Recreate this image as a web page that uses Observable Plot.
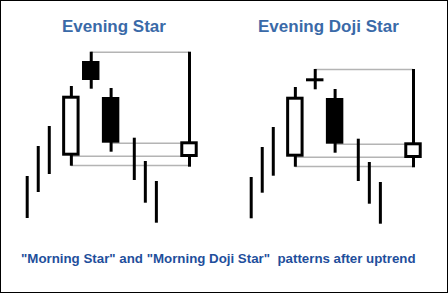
<!DOCTYPE html>
<html>
<head>
<meta charset="utf-8">
<script src="https://cdn.jsdelivr.net/npm/d3@7"></script>
<script src="https://cdn.jsdelivr.net/npm/@observablehq/plot@0.6"></script>
<style>
  html, body { margin: 0; padding: 0; background: #fff; }
  #wrap { position: relative; width: 448px; height: 293px; overflow: hidden; background: #fff; }
  #frame { position: absolute; left: 0; top: 0; width: 448px; height: 293px; box-sizing: border-box; border: 1px solid #000; pointer-events: none; }
  .panel { position: absolute; top: 0; width: 224px; height: 240px; }
  .panel svg { display: block; }
  .title { position: absolute; top: 17px; font: bold 17px/19px "Liberation Sans", Arial, sans-serif; color: #3a6aa8; white-space: nowrap; }
  #caption { position: absolute; left: 21px; top: 251px; font: bold 13.3px/15px "Liberation Sans", Arial, sans-serif; color: #1f4f9c; white-space: pre; }
</style>
</head>
<body>
<div id="wrap">
  <div class="panel" id="p0"></div>
  <div class="panel" id="p1" style="left:224px"></div>
  <div class="title" style="left:62px">Evening Star</div>
  <div class="title" style="left:258px">Evening Doji Star</div>
  <div id="caption"></div>
  <div id="frame"></div>
</div>
<script>
// ---- data ----
const panelTitles = ["Evening Star", "Evening Doji Star"];
const captionText = "\"Morning Star\" and \"Morning Doji Star\"  patterns after uptrend";

// candle time positions (shared by both panels)
const candleT = [0, 1, 2, 4, 5.8, 7.6, 9.7, 10.7, 11.7, 14.7];

// Evening Star (price units)
const esOpen  = [null, null, null, 84.3, 179, 143, null, null, null, 83];
const esClose = [null, null, null, 144.3, 160, 97.3, null, null, null, 98.7];
const esHigh  = [64, 94, 114, 154, 188.3, 152, 102.3, 79, 59, 188.3];
const esLow   = [22, 48, 66, 74.3, 151.3, 88.3, 60, 37.3, 17.3, 73.3];

// Evening Doji Star (price units)
const edsOpen  = [null, null, null, 83.3, 160.7, 142, null, null, null, 82];
const edsClose = [null, null, null, 143.3, 160.7, 96.3, null, null, null, 97.7];
const edsHigh  = [63, 93, 113, 153, 171, 151, 101.3, 78, 58, 171];
const edsLow   = [21.7, 47.3, 64.3, 73.3, 150.7, 87.3, 59, 36.3, 16.3, 72.7];

// grey reference levels
const esLevels  = [188.3, 97.3, 84.3, 75];
const edsLevels = [171, 96.3, 83.3, 74];
const levelFrom = [5.8, 7.6, 4, 4];
const levelTo   = [14.7, 14.7, 14.7, 14.7];

// ---- build ----
function candles(open, close, high, low) {
  return candleT.map((t, i) => ({t, open: open[i], close: close[i], high: high[i], low: low[i]}));
}
function levels(vals) {
  return vals.map((v, i) => ({y: v, from: levelFrom[i], to: levelTo[i]}));
}
const halfBody = 0.79; // body half-width in time units

function panel(data, lv) {
  const bodies = data.filter(d => d.open != null && d.open !== d.close);
  const dojis = data.filter(d => d.open != null && d.open === d.close);
  return Plot.plot({
    width: 224,
    height: 240,
    margin: 0,
    x: {domain: [0, 14.7], range: [26.7, 189], axis: null},
    y: {domain: [0, 240], range: [240, 0], axis: null},
    marks: [
      Plot.ruleY(lv, {y: "y", x1: "from", x2: "to", stroke: "#b4b4b4", strokeWidth: 1.5}),
      Plot.ruleX(data, {x: "t", y1: "low", y2: "high", stroke: "#000", strokeWidth: 3}),
      Plot.rect(bodies, {
        x1: d => d.t - halfBody, x2: d => d.t + halfBody,
        y1: "open", y2: "close",
        fill: d => d.close > d.open ? "#fff" : "#000",
        stroke: "#000", strokeWidth: 3, inset: 1.5
      }),
      Plot.ruleY(dojis, {y: "close", x1: d => d.t - halfBody, x2: d => d.t + halfBody, stroke: "#000", strokeWidth: 3})
    ]
  });
}

document.getElementById("p0").appendChild(panel(candles(esOpen, esClose, esHigh, esLow), levels(esLevels)));
document.getElementById("p1").appendChild(panel(candles(edsOpen, edsClose, edsHigh, edsLow), levels(edsLevels)));
document.getElementById("caption").textContent = captionText;
</script>
</body>
</html>
